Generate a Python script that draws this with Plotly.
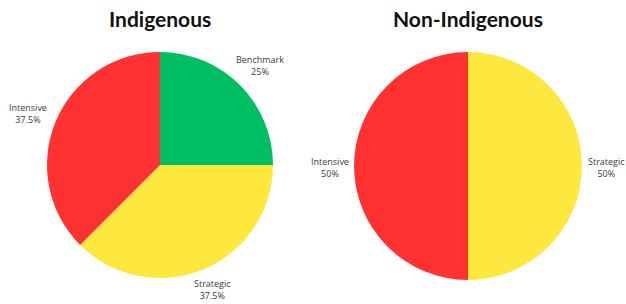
import plotly.graph_objects as go

# Data
ind_labels = ["Benchmark", "Strategic", "Intensive"]
ind_values = [25, 37.5, 37.5]
non_labels = ["Strategic", "Intensive"]
non_values = [50, 50]
titles = ["Indigenous", "Non-Indigenous"]

colors = {"Benchmark": "#00BF63", "Strategic": "#FFE83E", "Intensive": "#FF3131"}

fig = go.Figure()
fig.add_trace(go.Pie(
    labels=ind_labels, values=ind_values, sort=False, direction="clockwise", rotation=0,
    marker=dict(colors=[colors[l] for l in ind_labels], line=dict(width=0)),
    textinfo="none", hoverinfo="label+percent",
    domain=dict(x=[0.0751, 0.4361], y=[0.0855, 0.829]), showlegend=False,
))
fig.add_trace(go.Pie(
    labels=non_labels, values=non_values, sort=False, direction="clockwise", rotation=0,
    marker=dict(colors=[colors[l] for l in non_labels], line=dict(width=0)),
    textinfo="none", hoverinfo="label+percent",
    domain=dict(x=[0.5655, 0.9297], y=[0.0789, 0.829]), showlegend=False,
))

def pct(v, vals):
    p = 100 * v / sum(vals)
    s = f"{p:.1f}".rstrip("0").rstrip(".")
    return s + "%"

W, H = 626, 304
label_pos_ind = {"Benchmark": (260, 66), "Strategic": (212, 289), "Intensive": (28, 113)}
label_pos_non = {"Strategic": (606, 167), "Intensive": (330, 167)}

annotations = []
for lab, v in zip(ind_labels, ind_values):
    x, y = label_pos_ind[lab]
    annotations.append(dict(x=x / W, y=1 - y / H, xref="paper", yref="paper",
                            text=f"{lab}<br>{pct(v, ind_values)}", showarrow=False,
                            font=dict(family="Open Sans", size=9, color="#3a3a3a"),
                            xanchor="center", yanchor="middle", align="center"))
for lab, v in zip(non_labels, non_values):
    x, y = label_pos_non[lab]
    annotations.append(dict(x=x / W, y=1 - y / H, xref="paper", yref="paper",
                            text=f"{lab}<br>{pct(v, non_values)}", showarrow=False,
                            font=dict(family="Open Sans", size=9, color="#3a3a3a"),
                            xanchor="center", yanchor="middle", align="center"))
for t, cx in zip(titles, [160, 468]):
    annotations.append(dict(x=cx / W, y=1 - 18 / H, xref="paper", yref="paper",
                            text=f"<b>{t}</b>", showarrow=False,
                            font=dict(family="Lato", size=21, color="#111111"),
                            xanchor="center", yanchor="middle"))

fig.update_layout(width=W, height=H, margin=dict(l=0, r=0, t=0, b=0),
                  paper_bgcolor="white", plot_bgcolor="white",
                  annotations=annotations)
fig.write_html("out.html", config={"displayModeBar": False},
               post_script="document.body.style.margin='0';document.body.style.overflow='hidden';")
